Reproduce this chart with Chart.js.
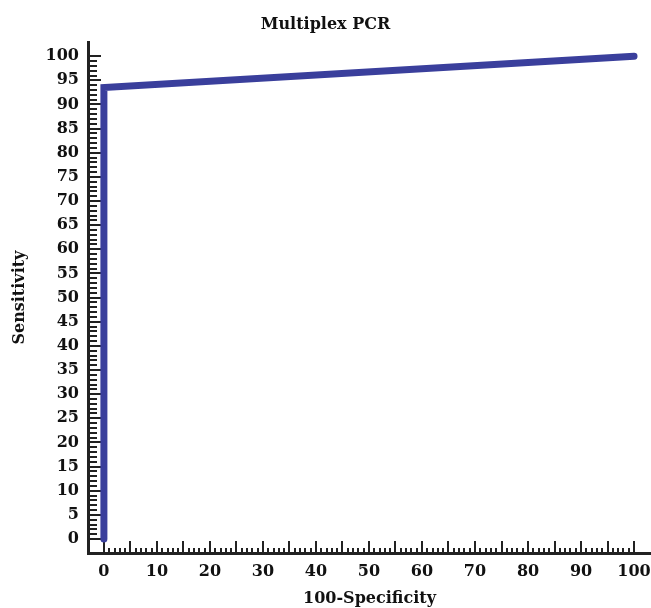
<!DOCTYPE html>
<html>
<head>
<meta charset="utf-8">
<script src="https://cdn.jsdelivr.net/npm/chart.js@4/dist/chart.umd.min.js"></script>
<style>
  html, body { margin: 0; padding: 0; background: #fff; }
  #wrap { width: 651px; height: 608px; position: relative; }
</style>
</head>
<body>
<div id="wrap"><canvas id="c" width="651" height="608"></canvas></div>
<script>
// ---- data ----
const specificity100 = [0, 0, 100];      // 100 - Specificity
const sensitivity = [0, 93.5, 100];      // Sensitivity
const xTickLabels = [0, 10, 20, 30, 40, 50, 60, 70, 80, 90, 100];
const yTickLabels = [0, 5, 10, 15, 20, 25, 30, 35, 40, 45, 50, 55, 60, 65, 70, 75, 80, 85, 90, 95, 100];
const chartTitle = 'Multiplex PCR';
const xTitle = '100-Specificity';
const yTitle = 'Sensitivity';

const FONT = 'DejaVu Serif';
const points = specificity100.map((x, i) => ({ x: x, y: sensitivity[i] }));

// inward tick marks drawn through the chart's own scales
const tickPlugin = {
  id: 'inwardTicks',
  beforeDatasetsDraw(chart) {
    const ctx = chart.ctx;
    const xs = chart.scales.x, ys = chart.scales.y;
    const ca = chart.chartArea;
    ctx.save();
    ctx.strokeStyle = '#222';
    ctx.lineWidth = 2;
    ctx.beginPath();
    for (let v = 0; v <= 100; v++) {
      const px = Math.round(xs.getPixelForValue(v));
      const len = (v % 5 === 0) ? 12 : 5;
      ctx.moveTo(px, ca.bottom);
      ctx.lineTo(px, ca.bottom - len);
      const py = Math.round(ys.getPixelForValue(v));
      const lenY = (v % 5 === 0) ? 13 : 9;
      ctx.moveTo(ca.left, py);
      ctx.lineTo(ca.left + lenY, py);
    }
    ctx.stroke();
    ctx.restore();
  }
};

new Chart(document.getElementById('c'), {
  type: 'scatter',
  data: {
    datasets: [{
      data: points,
      showLine: true,
      borderColor: '#3a3f9c',
      backgroundColor: '#3a3f9c',
      borderWidth: 7,
      borderCapStyle: 'round',
      borderJoinStyle: 'miter',
      pointRadius: 0,
      tension: 0
    }]
  },
  options: {
    responsive: false,
    animation: false,
    events: [],
    layout: { padding: 0 },
    plugins: {
      legend: { display: false },
      tooltip: { enabled: false },
      title: {
        display: true,
        text: chartTitle,
        color: '#111',
        font: { family: FONT, size: 16, weight: 'bold', lineHeight: 1.2 },
        padding: { top: 15, bottom: 8 }
      }
    },
    scales: {
      x: {
        type: 'linear',
        min: -3,
        max: 103.2,
        grid: { display: false, drawTicks: false },
        border: { display: true, width: 3, color: '#222' },
        afterBuildTicks(scale) { scale.ticks = xTickLabels.map(v => ({ value: v })); },
        afterFit(scale) { scale.height = 55; scale.paddingLeft = 0; scale.paddingRight = 0; },
        ticks: {
          color: '#111',
          padding: 9,
          maxRotation: 0,
          autoSkip: false,
          font: { family: FONT, size: 16, weight: 'bold' }
        },
        title: {
          display: true,
          text: xTitle,
          color: '#111',
          padding: { top: 0, bottom: 0 },
          font: { family: FONT, size: 16, weight: 'bold', lineHeight: 1.2 }
        }
      },
      y: {
        type: 'linear',
        min: -2.9,
        max: 102.9,
        grid: { display: false, drawTicks: false },
        border: { display: true, width: 3, color: '#222' },
        afterBuildTicks(scale) { scale.ticks = yTickLabels.map(v => ({ value: v })); },
        afterFit(scale) { scale.width = 88; scale.paddingTop = 0; scale.paddingBottom = 0; },
        ticks: {
          color: '#111',
          padding: 9,
          autoSkip: false,
          font: { family: FONT, size: 16, weight: 'bold' }
        },
        title: {
          display: true,
          text: yTitle,
          color: '#111',
          padding: { top: 10, bottom: 0 },
          font: { family: FONT, size: 16, weight: 'bold', lineHeight: 1.2 }
        }
      }
    }
  },
  plugins: [tickPlugin]
});
</script>
</body>
</html>
